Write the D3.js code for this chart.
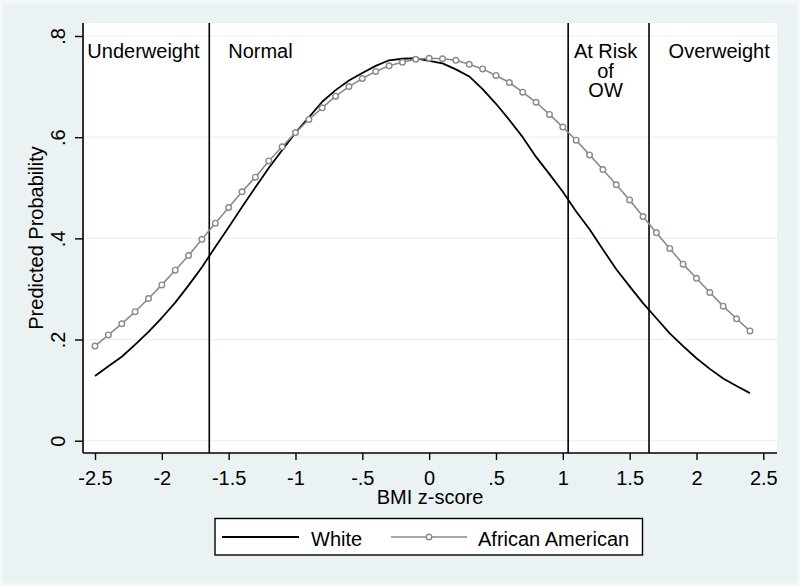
<!DOCTYPE html>
<html>
<head>
<meta charset="utf-8">
<script src="https://cdn.jsdelivr.net/npm/d3@7"></script>
<style>
  html, body { margin: 0; padding: 0; background: #f4f8f8; }
  svg { display: block; font-family: "Liberation Sans", Arial, sans-serif; }
</style>
</head>
<body>
<svg id="chart" width="800" height="586"></svg>
<script>
// ---- data ----
const zScores = [-2.5,-2.4,-2.3,-2.2,-2.1,-2.0,-1.9,-1.8,-1.7,-1.6,-1.5,-1.4,-1.3,-1.2,-1.1,-1.0,-0.9,-0.8,-0.7,-0.6,-0.5,-0.4,-0.3,-0.2,-0.1,0.0,0.1,0.2,0.3,0.4,0.5,0.6,0.7,0.8,0.9,1.0,1.1,1.2,1.3,1.4,1.5,1.6,1.7,1.8,1.9,2.0,2.1,2.2,2.3,2.4];
const whiteProb = [0.128,0.147,0.166,0.190,0.215,0.243,0.273,0.307,0.343,0.383,0.422,0.462,0.501,0.539,0.574,0.609,0.639,0.670,0.693,0.712,0.727,0.741,0.752,0.755,0.756,0.751,0.746,0.734,0.720,0.695,0.666,0.634,0.600,0.561,0.527,0.492,0.453,0.418,0.378,0.339,0.305,0.272,0.242,0.212,0.187,0.163,0.142,0.123,0.108,0.094];
const aaProb = [0.187,0.209,0.231,0.255,0.281,0.308,0.337,0.366,0.398,0.430,0.461,0.492,0.521,0.553,0.581,0.609,0.635,0.658,0.681,0.700,0.716,0.730,0.741,0.748,0.754,0.756,0.755,0.752,0.744,0.735,0.722,0.708,0.689,0.669,0.645,0.620,0.594,0.565,0.536,0.506,0.476,0.443,0.411,0.380,0.349,0.321,0.293,0.266,0.241,0.217];
const xTicks = [-2.5,-2,-1.5,-1,-0.5,0,0.5,1,1.5,2,2.5];
const xTickLabels = ["-2.5","-2","-1.5","-1","-.5","0",".5","1","1.5","2","2.5"];
const yTicks = [0,0.2,0.4,0.6,0.8];
const yTickLabels = ["0",".2",".4",".6",".8"];
const cutoffs = [-1.645, 1.04, 1.645];
const regionLabels = [
  {lines:["Underweight"], x:-2.137},
  {lines:["Normal"], x:-1.262},
  {lines:["At Risk","of","OW"], x:1.32},
  {lines:["Overweight"], x:2.17}
];
const seriesNames = ["White","African American"];

// ---- layout ----
const plot = {left:83, right:777, top:23, bottom:453};
const svg = d3.select("#chart");

svg.append("rect").attr("x",3).attr("y",3).attr("width",794).attr("height",580).attr("fill","#eaf2f3");
svg.append("rect").attr("x",plot.left).attr("y",plot.top)
  .attr("width",plot.right-plot.left).attr("height",plot.bottom-plot.top).attr("fill","#ffffff");

const x = d3.scaleLinear().domain([-2.5,2.5]).range([95,763.3]);
const y = d3.scaleLinear().domain([0,0.8]).range([440.7,36]);

// gridlines
svg.append("g").selectAll("line").data(yTicks).join("line")
  .attr("x1",plot.left).attr("x2",plot.right)
  .attr("y1",d=>y(d)).attr("y2",d=>y(d))
  .attr("stroke","#eaf2f3").attr("stroke-width",1.2);

// cutoff vertical lines
svg.append("g").selectAll("line").data(cutoffs).join("line")
  .attr("x1",d=>x(d)).attr("x2",d=>x(d))
  .attr("y1",plot.top).attr("y2",plot.bottom)
  .attr("stroke","#000").attr("stroke-width",1.6);

// region labels (multi-line labels as one text with tspans)
const lg = svg.append("g").attr("font-size",20).attr("fill","#000").attr("text-anchor","middle");
regionLabels.forEach(r=>{
  const t = lg.append("text").attr("x",x(r.x)).attr("y",58);
  r.lines.forEach((s,i)=>{
    t.append("tspan").attr("x",x(r.x)).attr("dy", i===0 ? 0 : 19.5).text(s);
  });
});

// series
const pts = (ys)=> zScores.map((z,i)=>[z,ys[i]]);
const line = d3.line().x(d=>x(d[0])).y(d=>y(d[1]));
svg.append("path").datum(pts(whiteProb)).attr("d",line)
  .attr("fill","none").attr("stroke","#000").attr("stroke-width",1.8).attr("stroke-linejoin","round");
svg.append("path").datum(pts(aaProb)).attr("d",line)
  .attr("fill","none").attr("stroke","#8a8a8a").attr("stroke-width",1.6);
svg.append("g").selectAll("circle").data(pts(aaProb)).join("circle")
  .attr("cx",d=>x(d[0])).attr("cy",d=>y(d[1])).attr("r",2.8)
  .attr("fill","#fff").attr("stroke","#8a8a8a").attr("stroke-width",1.4);

// axes
const xAxis = d3.axisBottom(x).tickValues(xTicks).tickFormat((d,i)=>xTickLabels[i]).tickSize(7).tickSizeOuter(0);
const gx = svg.append("g").attr("transform",`translate(0,${plot.bottom})`).call(xAxis);
gx.select(".domain").attr("d",`M${plot.left},0H${plot.right}`).attr("stroke","#000").attr("stroke-width",1.6);
gx.selectAll(".tick line").attr("stroke","#000").attr("stroke-width",1.4);
gx.selectAll(".tick text").attr("font-size",20).attr("font-family","Liberation Sans, Arial, sans-serif")
  .attr("fill","#000").attr("dy",null).attr("y",32);

const yAxis = d3.axisLeft(y).tickValues(yTicks).tickFormat((d,i)=>yTickLabels[i]).tickSize(8).tickSizeOuter(0);
const gy = svg.append("g").attr("transform",`translate(${plot.left},0)`).call(yAxis);
gy.select(".domain").attr("d",`M0,${plot.top}V${plot.bottom}`).attr("stroke","#000").attr("stroke-width",1.6);
gy.selectAll(".tick line").attr("stroke","#000").attr("stroke-width",1.4);
gy.selectAll(".tick text").attr("font-size",20).attr("font-family","Liberation Sans, Arial, sans-serif")
  .attr("fill","#000").attr("x",null).attr("dy",null)
  .attr("text-anchor","middle").attr("transform","translate(-18,0) rotate(-90)");

// axis titles
svg.append("text").attr("x",(plot.left+plot.right)/2).attr("y",504)
  .attr("text-anchor","middle").attr("font-size",20).text("BMI z-score");
svg.append("text").attr("transform",`translate(43,${(plot.top+plot.bottom)/2}) rotate(-90)`)
  .attr("text-anchor","middle").attr("font-size",20).text("Predicted Probability");

// legend
const leg = svg.append("g");
leg.append("rect").attr("x",215).attr("y",518.5).attr("width",427.5).attr("height",36.5)
  .attr("fill","#fff").attr("stroke","#000").attr("stroke-width",1.4);
leg.append("line").attr("x1",222).attr("x2",299).attr("y1",537).attr("y2",537)
  .attr("stroke","#000").attr("stroke-width",1.8);
leg.append("text").attr("x",311).attr("y",546).attr("font-size",20).text(seriesNames[0]);
leg.append("line").attr("x1",391).attr("x2",467).attr("y1",537).attr("y2",537)
  .attr("stroke","#8a8a8a").attr("stroke-width",1.6);
leg.append("circle").attr("cx",429).attr("cy",537).attr("r",2.8)
  .attr("fill","#fff").attr("stroke","#8a8a8a").attr("stroke-width",1.4);
leg.append("text").attr("x",478).attr("y",546).attr("font-size",20).text(seriesNames[1]);
</script>
</body>
</html>
